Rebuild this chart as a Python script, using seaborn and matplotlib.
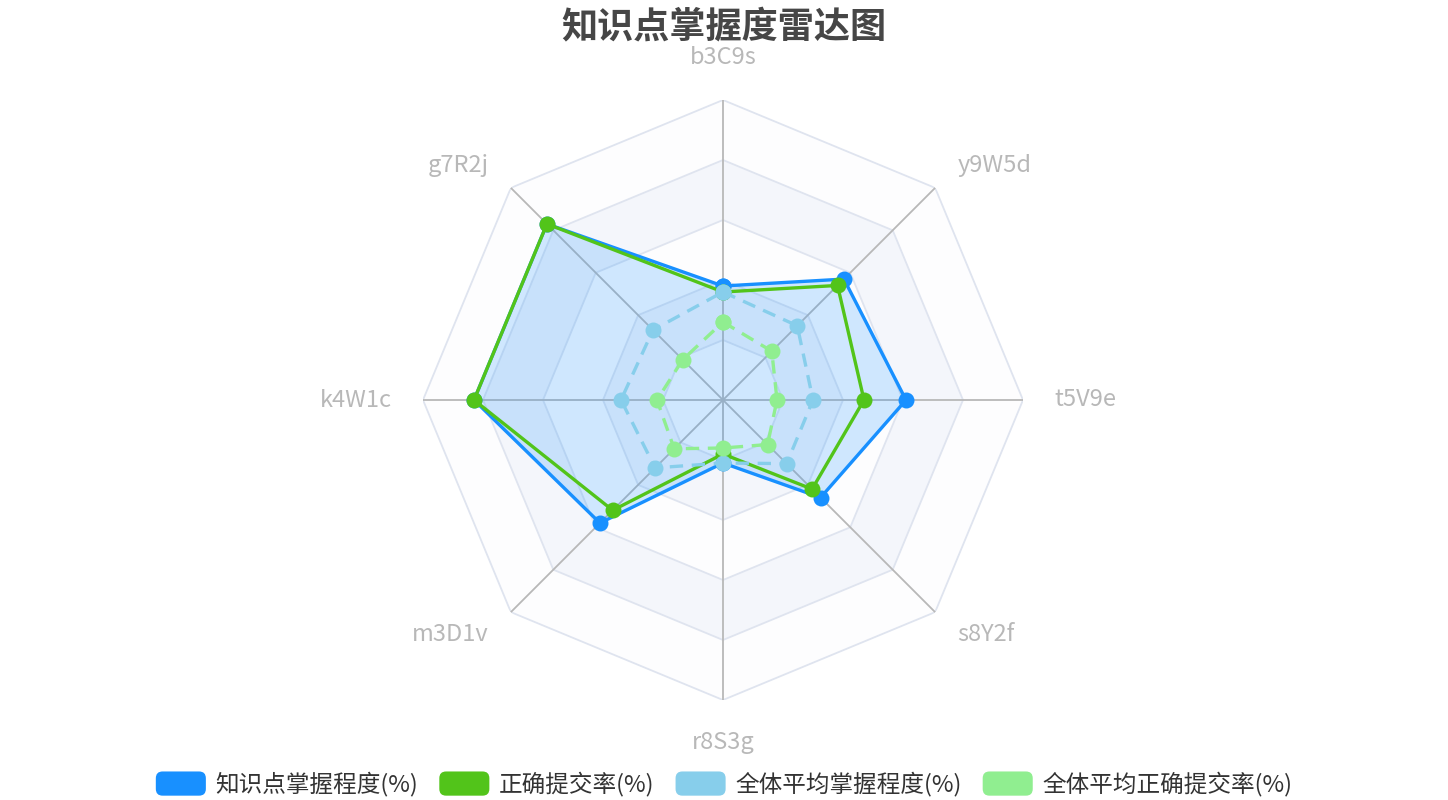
import numpy as np
import pandas as pd
import matplotlib
matplotlib.use("Agg")
import matplotlib.pyplot as plt
import seaborn as sns
from matplotlib.legend_handler import HandlerPatch
from matplotlib.patches import FancyBboxPatch, Patch

# ---------------- data ----------------
indicators = ["b3C9s", "y9W5d", "t5V9e", "s8Y2f", "r8S3g", "m3D1v", "k4W1c", "g7R2j"]
mastery = [38, 57, 61, 46, 21, 58, 83, 83]          # 知识点掌握程度(%)
correct_rate = [36, 54, 47, 42, 18, 52, 83, 83]     # 正确提交率(%)
avg_mastery = [36, 35, 30, 30, 21, 32, 34, 33]      # 全体平均掌握程度(%)
avg_correct = [26, 23, 18, 21, 16, 23, 22, 19]      # 全体平均正确提交率(%)
series_names = ["知识点掌握程度(%)", "正确提交率(%)", "全体平均掌握程度(%)", "全体平均正确提交率(%)"]
r_max = 100
split_number = 5

sns.set_theme(style="white")
plt.rcParams["font.family"] = ["Noto Sans CJK SC", "DejaVu Sans"]

W, H = 1448, 800
fig = plt.figure(figsize=(W / 100, H / 100), dpi=100)
cx, cy, R = 723, 400, 300
ax = fig.add_axes([(cx - R) / W, (H - cy - R) / H, 2 * R / W, 2 * R / H], projection="polar")
ax.set_theta_zero_location("N")
ax.set_theta_direction(-1)
ax.set_ylim(0, r_max)
ax.grid(False)
ax.set_xticks([])
ax.set_yticks([])
ax.spines["polar"].set_visible(False)
ax.patch.set_alpha(0)

n = len(indicators)
theta = np.linspace(0, 2 * np.pi, n, endpoint=False)
theta_c = np.append(theta, 2 * np.pi)

# split areas
levels = np.linspace(0, r_max, split_number + 1)
band_colors = ["#fdfdfe", "#f4f6fb"]
for i in range(split_number):
    r0, r1 = levels[i], levels[i + 1]
    th = np.concatenate([theta_c, theta_c[::-1]])
    rr = np.concatenate([np.full(n + 1, r1), np.full(n + 1, r0)])
    ax.fill(th, rr, color=band_colors[i % 2], zorder=0, linewidth=0)
# split lines
for lv in levels[1:]:
    ax.plot(theta_c, np.full(n + 1, lv), color="#dfe4ef", lw=1.3, zorder=1)
# axis lines
for t in theta:
    ax.plot([t, t], [0, r_max], color="#b8b8b8", lw=1.3, zorder=1)

# indicator labels
for t, name in zip(theta, indicators):
    s = np.sin(t)
    c = np.cos(t)
    if abs(s) < 1e-6:
        ha = "center"
        va = "bottom" if c > 0 else "top"
    else:
        ha = "left" if s > 0 else "right"
        va = "center"
    ax.text(t, 110.5, name, ha=ha, va=va, fontsize=17, color="#b8b8b8")

colors = ["#1890ff", "#52c41a", "#87ceeb", "#90ee90"]
values = [mastery, correct_rate, avg_mastery, avg_correct]
styles = ["-", "-", (0, (4, 2.6)), (0, (4, 2.6))]

# area for the main series
ax.fill(theta_c, np.append(mastery, mastery[0]), color="#1890ff", alpha=0.2, lw=0, zorder=2)

for k, (vals, col, ls) in enumerate(zip(values, colors, styles)):
    df = pd.DataFrame({"theta": theta_c, "r": np.append(vals, vals[0])})
    sns.lineplot(data=df, x="theta", y="r", ax=ax, sort=False, color=col,
                 linestyle=ls, lw=2.4, marker="o", markersize=11.5,
                 markeredgewidth=0, legend=False, errorbar=None, zorder=3 + k)
ax.set_xlabel("")
ax.set_ylabel("")
ax.set_xticks([])
ax.set_yticks([])
ax.set_ylim(0, r_max)

fig.text(0.5, 1 - 27 / H, "知识点掌握度雷达图", ha="center", va="center",
         fontsize=26, fontweight="bold", color="#464646")


class RoundHandler(HandlerPatch):
    def create_artists(self, legend, orig_handle, xdescent, ydescent, width, height, fontsize, trans):
        p = FancyBboxPatch((-xdescent, -ydescent), width, height,
                           boxstyle="round,pad=0,rounding_size=%f" % (height * 0.28),
                           facecolor=orig_handle.get_facecolor(), edgecolor="none",
                           transform=trans)
        return [p]


handles = [Patch(facecolor=c) for c in colors]
fig.legend(handles, series_names, loc="center", bbox_to_anchor=(0.5, 1 - 784 / H),
           ncol=4, frameon=False, fontsize=17, handlelength=2.12, handleheight=1.2,
           handletextpad=0.4, columnspacing=0.9, labelcolor="#333333",
           handler_map={Patch: RoundHandler()})

fig.savefig("out.png", dpi=100)
